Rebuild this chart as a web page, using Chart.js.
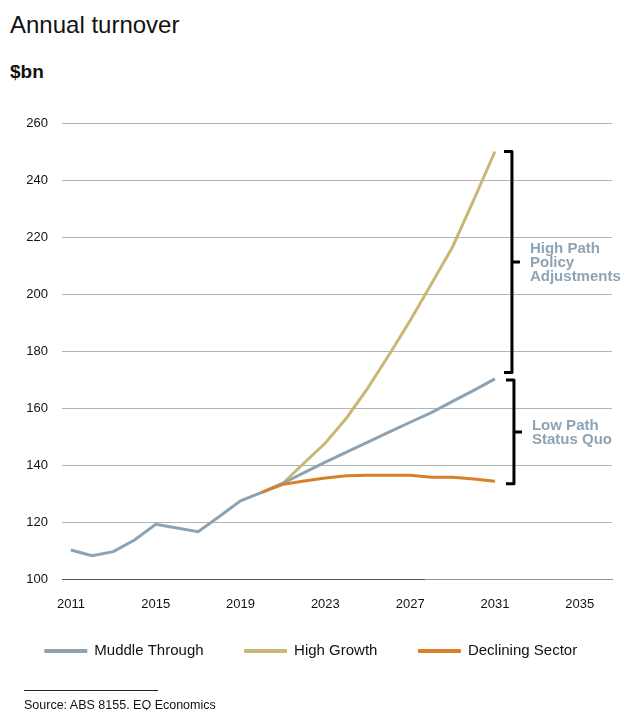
<!DOCTYPE html>
<html>
<head>
<meta charset="utf-8">
<title>Annual turnover</title>
<script src="https://cdn.jsdelivr.net/npm/chart.js@4/dist/chart.umd.min.js"></script>
<style>
    html, body { margin: 0; padding: 0; background: #fff; }
    body { width: 622px; height: 710px; position: relative; overflow: hidden; font-family: "Liberation Sans", Arial, sans-serif; color: #111; }
    #chart { position: absolute; left: 0; top: 0; }
    .title { position: absolute; left: 10px; top: 13px; font-size: 24px; line-height: 24px; white-space: nowrap; }
    .unit { position: absolute; left: 10px; top: 62px; font-size: 19px; line-height: 19px; font-weight: bold; }
    .rule { position: absolute; left: 24px; top: 690px; width: 134px; height: 1px; background: #222; }
    .source { position: absolute; left: 24px; top: 699px; font-size: 12.5px; line-height: 12px; white-space: nowrap; }
</style>
</head>
<body>
<div class="title">Annual turnover</div>
<div class="unit">$bn</div>
<canvas id="chart" width="622" height="710"></canvas>
<div class="rule"></div>
<div class="source">Source: ABS 8155. EQ Economics</div>
<script>
// Turnover by scenario, $bn
const muddleYears = [2011, 2012, 2013, 2014, 2015, 2016, 2017, 2018, 2019, 2020, 2021,
    2022, 2023, 2024, 2025, 2026, 2027, 2028, 2029, 2030, 2031];
const muddleThrough = [110.2, 108.2, 109.6, 113.7, 119.2, 117.9, 116.6, 121.9, 127.4, 130.4, 133.6,
    137.3, 141.0, 144.5, 148.0, 151.5, 155.0, 158.4, 162.3, 166.2, 170.2];

const growthYears = [2021, 2022, 2023, 2024, 2025, 2026, 2027, 2028, 2029, 2030, 2031];
const highGrowth = [133.6, 140.7, 147.7, 156.5, 167.0, 178.6, 190.7, 203.5, 216.5, 233.0, 250.0];

const decliningYears = [2020, 2021, 2022, 2023, 2024, 2025, 2026, 2027, 2028, 2029, 2030, 2031];
const decliningSector = [130.4, 133.2, 134.4, 135.4, 136.2, 136.4, 136.4, 136.4, 135.7, 135.7, 135.1, 134.3];

const xTicks = [2011, 2015, 2019, 2023, 2027, 2031, 2035];
const yTicks = [100, 120, 140, 160, 180, 200, 220, 240, 260];

// bracket ranges on the right: [from, to, label lines]
const highPath = [250, 172.5, ['High Path', 'Policy', 'Adjustments']];
const lowPath = [169.8, 133.4, ['Low Path', 'Status Quo']];

// the base line is drawn darker up to this year
const darkAxisTo = 2027.7;

const COLORS = {
    muddle: '#8da3b4',
    growth: '#c8b874',
    declining: '#d97f2a',
    grid: '#b4b4b4',
    axis: '#929292',
    axisDark: '#555555',
    note: '#8ea4b5',
};

const FONT = '"Liberation Sans", Arial, sans-serif';

function points(xs, ys) {
    return xs.map((x, i) => ({ x, y: ys[i] }));
}

function line(label, xs, ys, color, order) {
    return {
        label,
        data: points(xs, ys),
        borderColor: color,
        backgroundColor: color,
        borderWidth: 3,
        pointRadius: 0,
        tension: 0,
        order,
    };
}

// Square brackets with a centre nub, plus their grey captions
const bracketPlugin = {
    id: 'brackets',
    beforeDatasetsDraw(chart) {
        const { ctx, chartArea, scales: { x } } = chart;
        ctx.save();
        ctx.strokeStyle = COLORS.axisDark;
        ctx.lineWidth = 1;
        ctx.beginPath();
        ctx.moveTo(chartArea.left, chartArea.bottom + 0.5);
        ctx.lineTo(x.getPixelForValue(darkAxisTo), chartArea.bottom + 0.5);
        ctx.stroke();
        ctx.restore();
    },
    afterDatasetsDraw(chart) {
        const { ctx, scales: { x, y } } = chart;
        const base = x.getPixelForValue(2031);

        const drawBracket = ([from, to, lines], dx) => {
            const top = y.getPixelForValue(from);
            const bottom = y.getPixelForValue(to);
            const mid = (top + bottom) / 2;
            const xv = base + dx;

            ctx.save();
            ctx.strokeStyle = '#000';
            ctx.lineWidth = 3;
            ctx.lineJoin = 'round';
            ctx.beginPath();
            ctx.moveTo(xv - 8, top);
            ctx.lineTo(xv, top);
            ctx.lineTo(xv, bottom);
            ctx.lineTo(xv - 8, bottom);
            ctx.moveTo(xv, mid);
            ctx.lineTo(xv + 8, mid);
            ctx.stroke();

            ctx.fillStyle = COLORS.note;
            ctx.font = `bold 15px ${FONT}`;
            ctx.textAlign = 'left';
            ctx.textBaseline = 'alphabetic';
            const lh = 14;
            const first = mid - ((lines.length - 1) * lh) / 2 + 5;
            lines.forEach((t, i) => ctx.fillText(t, xv + 18, first + i * lh));
            ctx.restore();
        };

        drawBracket(highPath, 17);
        drawBracket(lowPath, 19);
    },
};

const chart = new Chart(document.getElementById('chart'), {
    type: 'line',
    data: {
        datasets: [
            line('Muddle Through', muddleYears, muddleThrough, COLORS.muddle, 1),
            line('High Growth', growthYears, highGrowth, COLORS.growth, 2),
            line('Declining Sector', decliningYears, decliningSector, COLORS.declining, 0),
        ],
    },
    options: {
        responsive: false,
        animation: false,
        layout: { padding: { top: 123, right: 0, bottom: 41.5, left: 0 } },
        plugins: {
            title: { display: false },
            tooltip: { enabled: false },
            legend: {
                position: 'bottom',
                labels: {
                    color: '#111',
                    font: { family: FONT, size: 15 },
                    boxWidth: 42,
                    boxHeight: 3,
                    padding: 41,
                    sort: (a, b) => a.datasetIndex - b.datasetIndex,
                    generateLabels(c) {
                        return Chart.defaults.plugins.legend.labels.generateLabels(c).map((item) => ({
                            ...item,
                            lineWidth: 1,
                        }));
                    },
                },
            },
        },
        scales: {
            x: {
                type: 'linear',
                min: 2010.58,
                max: 2036.52,
                afterBuildTicks(scale) {
                    scale.ticks = xTicks.map((value) => ({ value }));
                },
                afterFit(scale) {
                    scale.height = 23.5;
                    // year labels sit partly inside the legend's top padding, so don't clip them
                    scale._computeLabelArea = () => undefined;
                },
                grid: { display: false, drawTicks: false },
                border: { display: true, color: COLORS.axis, width: 1 },
                ticks: {
                    padding: 18,
                    color: '#111',
                    font: { family: FONT, size: 13 },
                    maxRotation: 0,
                    callback: (v) => String(v),
                },
            },
            y: {
                min: 100,
                max: 260,
                afterBuildTicks(scale) {
                    scale.ticks = yTicks.map((value) => ({ value }));
                },
                afterFit(scale) {
                    scale.width = 62;
                },
                grid: { color: COLORS.grid, lineWidth: 1, drawTicks: false },
                border: { display: false },
                ticks: {
                    padding: 14,
                    color: '#111',
                    font: { family: FONT, size: 13 },
                    callback: (v) => String(v),
                },
            },
            // empty right-hand strip so the plot stops short of the edge
            margin: {
                type: 'linear',
                position: 'right',
                grid: { display: false, drawTicks: false },
                border: { display: false },
                ticks: { display: false },
                afterFit(scale) {
                    scale.width = 10;
                },
            },
        },
    },
    plugins: [bracketPlugin],
});
</script>
</body>
</html>
